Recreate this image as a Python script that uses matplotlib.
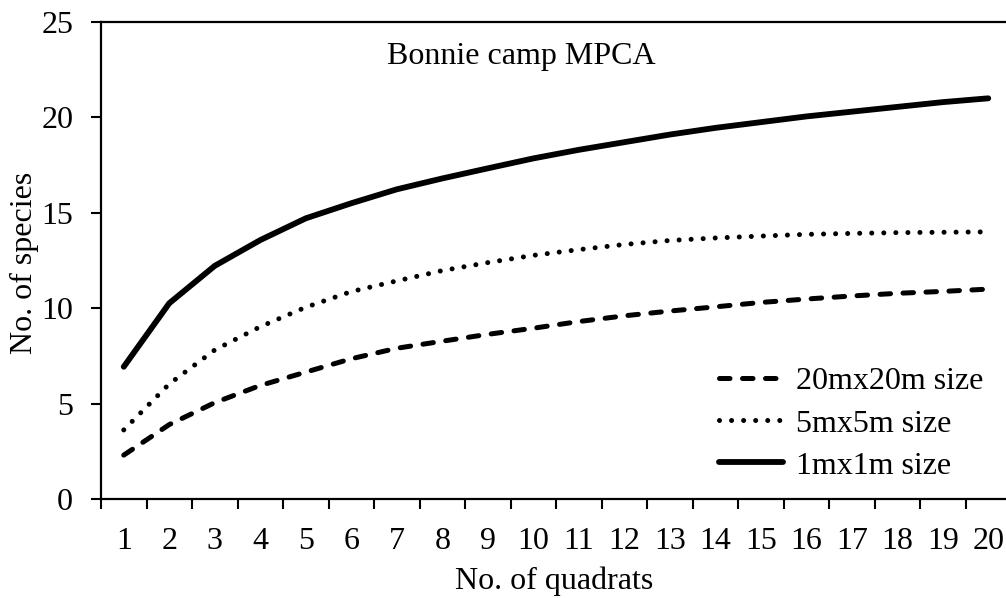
import matplotlib
matplotlib.use("Agg")
import matplotlib.pyplot as plt
from matplotlib.ticker import FixedLocator, NullFormatter

plt.rcParams['font.family'] = ['Liberation Serif', 'DejaVu Serif']

quadrats = list(range(1, 21))
size_20m = [2.3, 3.9, 5.05, 5.95, 6.65, 7.35, 7.9, 8.27, 8.63, 8.95,
            9.3, 9.6, 9.85, 10.07, 10.3, 10.48, 10.64, 10.78, 10.88, 11.0]
size_5m = [3.62, 6.03, 7.81, 9.03, 10.05, 10.87, 11.43, 11.97, 12.39, 12.77,
           13.07, 13.34, 13.55, 13.68, 13.78, 13.87, 13.92, 13.96, 13.98, 14.0]
size_1m = [6.93, 10.26, 12.22, 13.57, 14.71, 15.5, 16.23, 16.8, 17.33, 17.85,
           18.3, 18.7, 19.1, 19.45, 19.75, 20.05, 20.3, 20.55, 20.8, 21.0]
labels = ["20mx20m size", "5mx5m size", "1mx1m size"]
title = "Bonnie camp MPCA"

FS = 23

fig = plt.figure(figsize=(10.06, 5.98), dpi=100)
ax = fig.add_axes([101 / 1006, 1 - 499 / 598, 910 / 1006, 477 / 598])

l1, = ax.plot(quadrats, size_20m, color='black', lw=3.6, linestyle=(0, (2.1, 2.5)),
              dash_capstyle='round', dash_joinstyle='round')
l2, = ax.plot(quadrats, size_5m, color='black', lw=3.6, linestyle=(0, (0.01, 2.4)),
              dash_capstyle='round')
l3, = ax.plot(quadrats, size_1m, color='black', lw=4.2, solid_capstyle='round',
              solid_joinstyle='round')

ax.set_xlim(0.5, 20.5)
ax.set_ylim(0, 25)
ax.set_yticks([0, 5, 10, 15, 20, 25])
ax.set_xticks(quadrats)
ax.set_xticklabels([str(q) for q in quadrats])
ax.xaxis.set_minor_locator(FixedLocator([q - 0.5 for q in quadrats] + [20.5]))
ax.xaxis.set_minor_formatter(NullFormatter())

ax.tick_params(axis='x', which='major', length=0, pad=20, labelsize=FS)
ax.tick_params(axis='x', which='minor', length=7, width=1.5, direction='out')
ax.tick_params(axis='y', which='major', length=7, width=1.5, pad=13, labelsize=FS,
               direction='out')

for s in ['left', 'bottom', 'top', 'right']:
    ax.spines[s].set_linewidth(1.6)

ax.set_xlabel("No. of quadrats", fontsize=FS)
ax.xaxis.set_label_coords(0.498, -0.172)
ax.xaxis.label.set_va('center')
ax.set_ylabel("No. of species", fontsize=FS)
ax.yaxis.set_label_coords(-0.084, 0.495)
ax.yaxis.label.set_va('center')

ax.text(0.4615, 0.927, title, transform=ax.transAxes, fontsize=FS,
        ha='center', va='center')

ax.legend([l1, l2, l3], labels, loc='upper left',
          bbox_to_anchor=((719 - 101) / 910, (499 - 367) / 477),
          frameon=False, fontsize=FS, handlelength=2.0, handletextpad=0.4,
          labelspacing=0.4, borderpad=0, borderaxespad=0)

fig.savefig("out.png", dpi=100)
